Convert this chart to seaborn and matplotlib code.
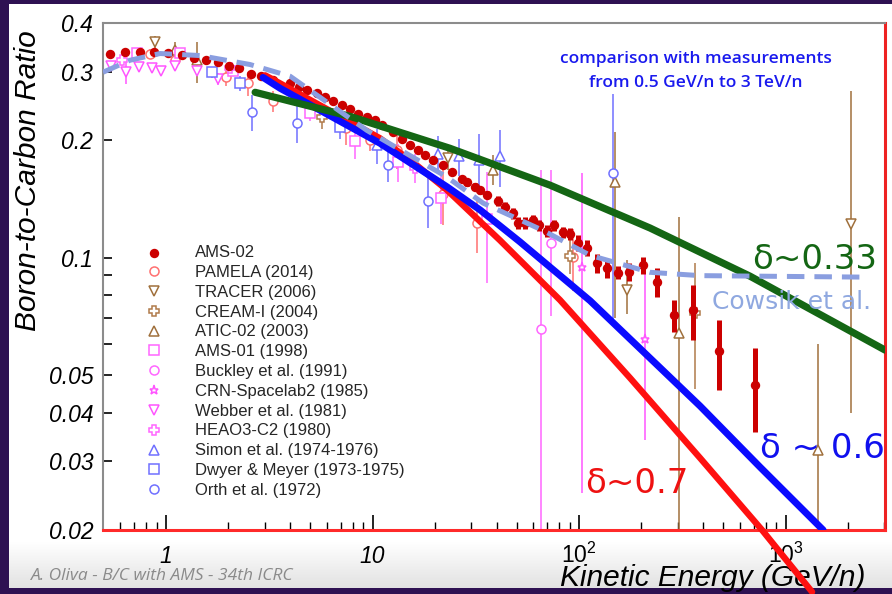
import matplotlib
matplotlib.use("Agg")
import numpy as np
import matplotlib.pyplot as plt
import seaborn as sns
from matplotlib.patches import Rectangle
from matplotlib.ticker import NullLocator
from matplotlib.colors import LinearSegmentedColormap

# ---------------- data ----------------
ams_E = [0.535, 0.633, 0.748, 0.875, 1.02, 1.195, 1.366, 1.562, 1.786, 2.019,
         2.257, 2.58, 2.884, 3.30, 3.99, 4.41, 4.82, 5.38, 5.89, 6.44,
         7.12, 7.78, 8.51, 9.41, 10.28, 11.12, 12.57, 13.90, 15.19, 16.61,
         17.96, 19.63, 21.95, 24.27, 27.13, 28.69, 31.36, 33.16, 35.85, 40.53,
         43.82, 47.91, 50.66, 54.77, 59.86, 64.02, 69.98, 75.66, 83.67, 90.4,
         98.9, 109.3, 122.2, 136.7, 154.5, 174.7, 204.2, 238.6, 288.4, 356.6,
         476.4, 711.9]
ams_BC = [0.334, 0.337, 0.338, 0.337, 0.335, 0.332, 0.326, 0.322, 0.318, 0.311,
          0.306, 0.296, 0.292, 0.285, 0.280, 0.274, 0.270, 0.264, 0.258, 0.253,
          0.246, 0.240, 0.234, 0.229, 0.225, 0.219, 0.210, 0.202, 0.194, 0.189,
          0.183, 0.178, 0.173, 0.166, 0.159, 0.156, 0.152, 0.149, 0.145, 0.140,
          0.135, 0.130, 0.123, 0.123, 0.125, 0.121, 0.117, 0.121, 0.116, 0.115,
          0.109, 0.106, 0.0966, 0.0938, 0.0914, 0.0919, 0.0956, 0.0866, 0.0712, 0.0733,
          0.0575, 0.0471]
ams_err = [0.003, 0.003, 0.003, 0.003, 0.003, 0.003, 0.003, 0.003, 0.003, 0.003,
           0.003, 0.003, 0.003, 0.003, 0.003, 0.003, 0.003, 0.003, 0.003, 0.003,
           0.003, 0.003, 0.003, 0.003, 0.003, 0.003, 0.003, 0.003, 0.003, 0.003,
           0.003, 0.003, 0.003, 0.003, 0.003, 0.003, 0.003, 0.003, 0.003, 0.004,
           0.004, 0.004, 0.0045, 0.0045, 0.004, 0.004, 0.004, 0.004, 0.004, 0.004,
           0.005, 0.005, 0.0053, 0.005, 0.0035, 0.005, 0.0046, 0.0073, 0.0067, 0.012,
           0.0118, 0.0115]

pamela_E = [0.837, 1.105, 1.953, 2.495, 3.30, 7.44, 9.72, 13.14, 21.95, 32.07, 93.5]
pamela_BC = [0.334, 0.321, 0.290, 0.280, 0.252, 0.215, 0.200, 0.189, 0.146, 0.1226, 0.1002]
pamela_err = [0.010, 0.015, 0.015, 0.020, 0.015, 0.020, 0.012, 0.020, 0.025, 0.020, 0.018]

tracer_E = [0.885, 23.2, 170.8, 2076]
tracer_BC = [0.357, 0.180, 0.0825, 0.122]
tracer_lo = [0.014, 0.012, 0.011, 0.082]
tracer_hi = [0.014, 0.012, 0.016, 0.146]

cream_E = [5.69, 90.4, 364.6]
cream_BC = [0.229, 0.1008, 0.072]
cream_lo = [0.015, 0.010, 0.026]
cream_hi = [0.015, 0.010, 0.025]

atic_E = [1.105, 1.413, 38.33, 149.4, 305.0, 1437]
atic_BC = [0.342, 0.321, 0.168, 0.156, 0.064, 0.0321]
atic_lo = [0.015, 0.040, 0.014, 0.086, 0.050, 0.017]
atic_hi = [0.015, 0.036, 0.015, 0.054, 0.063, 0.028]

ams01_E = [0.724, 1.169, 2.11, 4.98, 8.23, 13.29, 21.46, 35.85]
ams01_BC = [0.336, 0.336, 0.302, 0.2346, 0.199, 0.176, 0.142, 0.126]
ams01_err = [0.006, 0.006, 0.008, 0.010, 0.020, 0.020, 0.020, 0.040]

buckley_E = [65.5, 73.2]
buckley_BC = [0.0655, 0.109]
buckley_lo = [0.050, 0.038]
buckley_hi = [0.102, 0.059]

crn_E = [103.4, 208.7]
crn_BC = [0.0944, 0.0618]
crn_lo = [0.0695, 0.0278]
crn_hi = [0.0706, 0.0326]

webber_E = [0.541, 0.640, 0.740, 0.855, 0.946, 1.105, 1.413, 1.786]
webber_BC = [0.310, 0.299, 0.308, 0.306, 0.302, 0.311, 0.302, 0.288]
webber_err = [0.008, 0.020, 0.008, 0.008, 0.008, 0.008, 0.008, 0.010]

heao_E = [0.612, 2.04, 16.06]
heao_BC = [0.321, 0.306, 0.170]
heao_err = [0.010, 0.010, 0.015]

simon_E = [10.51, 20.76, 26.23, 32.79, 41.45]
simon_BC = [0.194, 0.185, 0.182, 0.178, 0.182]
simon_err = [0.020, 0.020, 0.020, 0.030, 0.030]

dwyer_E = [1.67, 2.28, 6.96]
dwyer_BC = [0.299, 0.280, 0.217]
dwyer_err = [0.010, 0.012, 0.015]

orth_E = [2.61, 4.31, 11.89, 18.57, 146.1]
orth_BC = [0.236, 0.222, 0.173, 0.140, 0.165]
orth_err = [0.025, 0.025, 0.017, 0.021, 0.098]

# model curves
green_E = [2.70, 7.78, 23.7, 72.4, 220.7, 673.0, 3034]
green_BC = [0.2656, 0.2304, 0.1908, 0.1534, 0.1191, 0.0896, 0.0579]
blue_E = [2.95, 3.565, 10.87, 22.95, 33.2, 51.8, 113.1, 385.5, 752.5, 1520]
blue_BC = [0.290, 0.272, 0.1965, 0.1519, 0.1325, 0.1097, 0.0775, 0.0416, 0.0290, 0.020]
red_E = [3.02, 3.565, 10.87, 15.71, 22.95, 41.45, 80.9, 176.6, 385.5, 769, 1344]
red_BC = [0.2936, 0.280, 0.2024, 0.1756, 0.149, 0.1107, 0.0778, 0.0491, 0.0306, 0.020, 0.01387]
cow_E = [0.495, 0.669, 0.935, 1.46, 2.55, 3.99, 9.4, 22.9, 34.3, 66.9, 113, 220, 385, 2482]
cow_BC = [0.299, 0.321, 0.334, 0.330, 0.313, 0.292, 0.212, 0.161, 0.138, 0.1174,
          0.1014, 0.0917, 0.0899, 0.0891]

x_major = [1, 10, 100, 1000]
x_major_labels = ['1', '10', r'$10^{2}$', r'$10^{3}$']
x_minor = [0.6, 0.7, 0.8, 0.9, 2, 3, 4, 5, 6, 7, 8, 9, 20, 30, 40, 50, 60, 70, 80, 90,
           200, 300, 400, 500, 600, 700, 800, 900, 2000, 3000]
y_ticks = [0.02, 0.03, 0.04, 0.05, 0.06, 0.07, 0.08, 0.09, 0.1, 0.2, 0.3, 0.4]
y_tick_labels = ['0.02', '0.03', '0.04', '0.05', '', '', '', '', '0.1', '0.2', '0.3', '0.4']

# ---------------- style ----------------
sns.set_theme(style="white")
plt.rcParams['font.family'] = ['Liberation Sans', 'DejaVu Sans']
plt.rcParams['mathtext.fontset'] = 'custom'
plt.rcParams['mathtext.rm'] = 'Liberation Sans'
plt.rcParams['mathtext.it'] = 'Liberation Sans:italic'
plt.rcParams['mathtext.default'] = 'it'

W, H = 892, 594
fig = plt.figure(figsize=(W / 100, H / 100), dpi=100)
fig.patch.set_facecolor('#2e1152')
fig.patches.append(Rectangle((9 / W, 6 / H), 1 - 9 / W, 584 / H, transform=fig.transFigure,
                             facecolor='white', edgecolor='none', zorder=-10))
# slide footer shading
bg = fig.add_axes([9 / W, 6 / H, 1 - 9 / W, 46 / H], zorder=-5)
shade = LinearSegmentedColormap.from_list('shade', ['#e2e2e2', '#ffffff'])
bg.imshow(np.linspace(0, 1, 64).reshape(-1, 1), cmap=shade, aspect='auto', origin='lower',
          extent=[0, 1, 0, 1])
bg.axis('off')

ax = fig.add_axes([103 / W, 64 / H, 782 / W, 507 / H])
ax.set_facecolor('white')
ax.set_xscale('log')
ax.set_yscale('log')

others = [
    ("PAMELA (2014)", pamela_E, pamela_BC, pamela_err, 'o', '#ff7070'),
    ("TRACER (2006)", tracer_E, tracer_BC, [tracer_lo, tracer_hi], 'v', '#a0703c'),
    ("CREAM-I (2004)", cream_E, cream_BC, [cream_lo, cream_hi], 'P', '#b07a4a'),
    ("ATIC-02 (2003)", atic_E, atic_BC, [atic_lo, atic_hi], '^', '#a0703c'),
    ("AMS-01 (1998)", ams01_E, ams01_BC, ams01_err, 's', '#ff66ff'),
    ("Buckley et al. (1991)", buckley_E, buckley_BC, [buckley_lo, buckley_hi], 'o', '#ff66ff'),
    ("CRN-Spacelab2 (1985)", crn_E, crn_BC, [crn_lo, crn_hi], '*', '#ff55ff'),
    ("Webber et al. (1981)", webber_E, webber_BC, webber_err, 'v', '#ff55ff'),
    ("HEAO3-C2 (1980)", heao_E, heao_BC, heao_err, 'P', '#ff66ff'),
    ("Simon et al. (1974-1976)", simon_E, simon_BC, simon_err, '^', '#7070ff'),
    ("Dwyer & Meyer (1973-1975)", dwyer_E, dwyer_BC, dwyer_err, 's', '#7070ff'),
    ("Orth et al. (1972)", orth_E, orth_BC, orth_err, 'o', '#7070ff'),
]
handles = {}
for name, E, BC, err, m, c in others:
    ax.errorbar(E, BC, yerr=err, fmt='none', ecolor=c, elinewidth=1.1, capsize=0, zorder=2)
    h, = ax.plot(E, BC, ls='none', marker=m, ms=6.5, mfc='white', mec=c, mew=1.1,
                 label=name, zorder=2.2)
    handles[name] = h

# AMS-02
ax.errorbar(ams_E, ams_BC, yerr=ams_err, fmt='none', ecolor='#cc0000', elinewidth=3.6,
            capsize=0, zorder=3)
sns.scatterplot(x=ams_E, y=ams_BC, ax=ax, color='#cc0000', s=46, linewidth=0, zorder=3.2)
ams_handle = ax.collections[-1]
ams_handle.set_label('AMS-02')
handles['AMS-02'] = ams_handle

# model curves
sns.lineplot(x=red_E, y=red_BC, ax=ax, color='#ff1010', linewidth=4.6, zorder=5, errorbar=None)
ax.lines[-1].set_clip_on(False)
sns.lineplot(x=blue_E, y=blue_BC, ax=ax, color='#0a0aff', linewidth=5.0, zorder=5, errorbar=None)
sns.lineplot(x=green_E, y=green_BC, ax=ax, color='#146614', linewidth=5.2, zorder=5, errorbar=None)
sns.lineplot(x=cow_E, y=cow_BC, ax=ax, color='#8a9ee0', linewidth=3.6,
             linestyle=(0, (3.5, 2.0)), zorder=6, errorbar=None)

ax.set_xlim(0.495, 3030)
ax.set_ylim(0.02, 0.4)

ax.set_xticks(x_major, x_major_labels, fontsize=16.5, fontstyle='italic', va='baseline')
ax.set_xticks(x_minor, minor=True)
ax.set_xticklabels([], minor=True)
ax.set_yticks(y_ticks, y_tick_labels, fontsize=16.5, fontstyle='italic')
ax.yaxis.set_minor_locator(NullLocator())
ax.tick_params(axis='x', which='major', direction='in', length=11, width=1.2, pad=23.8,
               bottom=True, top=False, color='black', labelcolor='black')
ax.tick_params(axis='x', which='minor', direction='in', length=5.5, width=1.0,
               bottom=True, top=False, color='black')
ax.tick_params(axis='y', which='major', direction='in', length=6.5, width=1.2, pad=7,
               left=True, right=False, color='black', labelcolor='black')

for s in ['left', 'top']:
    ax.spines[s].set_color('#8c8c8c')
    ax.spines[s].set_linewidth(1.5)
ax.spines['bottom'].set_color('#ff2a2a')
ax.spines['bottom'].set_linewidth(2.2)
ax.spines['right'].set_color('#ee2222')
ax.spines['right'].set_linewidth(2.2)

ax.set_xlabel('Kinetic Energy (GeV/n)', fontsize=21.5, fontstyle='italic', color='black',
              ha='right', va='baseline')
ax.xaxis.set_label_coords((865 - 103) / 782, (530 - 586) / 507)
ax.set_ylabel('Boron-to-Carbon Ratio', fontsize=21.5, fontstyle='italic', color='black',
              ha='center', va='baseline')
ax.yaxis.set_label_coords((36 - 103) / 782, (530 - 181) / 507)

order = ['AMS-02'] + [o[0] for o in others]
ax.legend([handles[n] for n in order], order, loc='upper left',
          bbox_to_anchor=(141 / W, 1 - 245 / H), bbox_transform=fig.transFigure,
          frameon=False, fontsize=12, handlelength=1.5, handletextpad=1.75,
          labelspacing=0.29, borderpad=0, borderaxespad=0, markerscale=1.0)

# annotations
def ftext(x, y, s, **kw):
    fig.text(x / W, 1 - y / H, s, **kw)

ftext(696, 63.3, 'comparison with measurements', ha='center', va='baseline',
      color='#1a1aee', fontsize=12.5, family=['Open Sans', 'DejaVu Sans'], fontweight='semibold')
ftext(696, 86.7, 'from 0.5 GeV/n to 3 TeV/n', ha='center', va='baseline',
      color='#1a1aee', fontsize=12.5, family=['Open Sans', 'DejaVu Sans'], fontweight='semibold')
ftext(752, 269, 'δ~0.33', ha='left', va='baseline', color='#146614', fontsize=24.5,
      family=['DejaVu Sans'])
ftext(712, 309, 'Cowsik et al.', ha='left', va='baseline', color='#8fa8e0', fontsize=18,
      family=['DejaVu Sans'])
ftext(760, 458, 'δ ~ 0.6', ha='left', va='baseline', color='#1010ee', fontsize=24.5,
      family=['DejaVu Sans'])
ftext(585, 493, 'δ~0.7', ha='left', va='baseline', color='#ee1111', fontsize=24.5,
      family=['DejaVu Sans'])
ftext(31, 580, 'A. Oliva - B/C with AMS - 34th ICRC', ha='left', va='baseline',
      color='#8a8a8a', fontsize=12.5, fontstyle='italic', family=['Open Sans', 'DejaVu Sans'])

fig.savefig('out.png', dpi=100, facecolor=fig.get_facecolor())
